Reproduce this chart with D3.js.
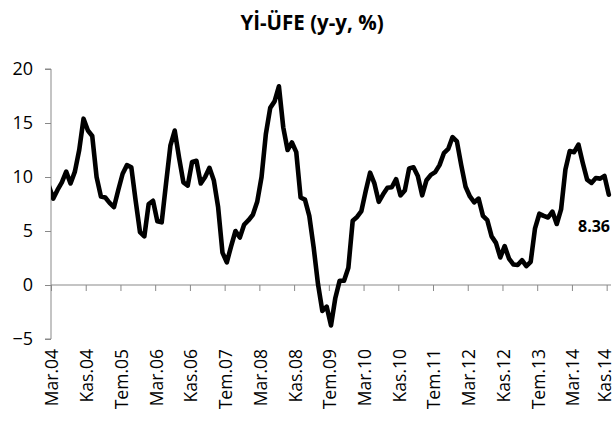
<!DOCTYPE html>
<html><head><meta charset="utf-8">
<script src="https://cdnjs.cloudflare.com/ajax/libs/d3/7.8.5/d3.min.js"></script>
<style>body{margin:0;background:#fff;overflow:hidden} svg{display:block}</style>
</head><body>
<script>
const chartTitle = "Yİ-ÜFE (y-y, %)";
const monthNames = ["Oca","Şub","Mar","Nis","May","Haz","Tem","Ağu","Eyl","Eki","Kas","Ara"];
// monthly series, first value (Şub.04) lies just left of the plot and is clipped
const startYear = 2004, startMonth = 1;
const values = [
  9.2,
  8.0, 8.8, 9.5, 10.5, 9.4, 10.5, 12.5, 15.4, 14.3, 13.8,
  10.0, 8.2, 8.1, 7.6, 7.2, 8.8, 10.3, 11.1, 10.9, 7.8, 4.9, 4.5,
  7.5, 7.8, 5.9, 5.8, 9.4, 12.9, 14.3, 11.8, 9.5, 9.2, 11.4, 11.5,
  9.4, 10.0, 10.85, 9.7, 7.2, 3.0, 2.1, 3.6, 5.0, 4.4, 5.6, 6.0,
  6.5, 7.7, 10.0, 14.0, 16.4, 17.0, 18.4, 14.6, 12.5, 13.2, 12.3, 8.1,
  7.9, 6.4, 3.5, 0.1, -2.4, -2.0, -3.75, -1.2, 0.4, 0.4, 1.6, 5.95,
  6.3, 6.85, 8.7, 10.4, 9.4, 7.7, 8.4, 9.0, 9.05, 9.8, 8.3, 8.75,
  10.8, 10.9, 10.1, 8.3, 9.7, 10.2, 10.45, 11.1, 12.2, 12.6, 13.7, 13.3,
  11.1, 9.1, 8.2, 7.65, 8.0, 6.4, 6.0, 4.5, 3.9, 2.55, 3.6, 2.45,
  1.9, 1.85, 2.3, 1.75, 2.15, 5.25, 6.6, 6.4, 6.25, 6.8, 5.65, 7.0,
  10.7, 12.4, 12.3, 13.0, 11.3, 9.75, 9.45, 9.9, 9.85, 10.1, 8.36
];
const categories = values.map((v, i) => {
  const m = startMonth + i;
  const yy = startYear + Math.floor(m / 12);
  return monthNames[m % 12] + "." + String(yy % 100).padStart(2, "0");
});
const tickLabels = ["Mar.04","Kas.04","Tem.05","Mar.06","Kas.06","Tem.07","Mar.08","Kas.08","Tem.09",
                    "Mar.10","Kas.10","Tem.11","Mar.12","Kas.12","Tem.13","Mar.14","Kas.14"];
const yTicks = [-5, 0, 5, 10, 15, 20];
const endLabel = "8.36";

const W = 616, H = 421;
const svg = d3.select("body").append("svg").attr("width", W).attr("height", H);
const font = "'Open Sans', sans-serif";
const axisColor = "#898989";

// x: array index -> pixel (first plotted category Mar.04 is index 1, centred in its slot)
const x = d3.scaleLinear().domain([0.5, values.length - 0.5]).range([51, 611]);
const y = d3.scaleLinear().domain([-5, 20]).range([339, 69]);

// title
svg.append("text").attr("x", 312).attr("y", 30).attr("text-anchor", "middle")
  .attr("font-family", font).attr("font-weight", "bold").attr("font-size", 20.5)
  .attr("fill", "#000").text(chartTitle);

// y axis
const yAxis = svg.append("g").attr("transform", `translate(${x(0.5)},0)`)
  .call(d3.axisLeft(y).tickValues(yTicks).tickSize(6).tickPadding(12).tickFormat(d3.format("d")));
yAxis.select(".domain").attr("stroke", axisColor).attr("d", `M-6,${y(20)}H0V${y(-5)}H-6`);
yAxis.selectAll(".tick line").attr("stroke", axisColor);
yAxis.selectAll(".tick text").attr("font-family", font).attr("font-size", 18).attr("fill", "#000");

// x axis line with tick marks at category boundaries every 8 months
const boundaries = d3.range(0, 17).map(k => 0.5 + 8 * k);
const xAxis = svg.append("g").attr("transform", `translate(0,${y(0)})`)
  .call(d3.axisBottom(x).tickValues(boundaries).tickSize(6).tickFormat(""));
xAxis.select(".domain").attr("stroke", axisColor).attr("d", `M${x(0.5)},0H${x(values.length - 0.5)}`);
xAxis.selectAll(".tick line").attr("stroke", axisColor);

// rotated category labels (kept inside the page width)
const labelIdx = tickLabels.map(l => categories.indexOf(l));
svg.append("g").selectAll("text").data(labelIdx).join("text")
  .attr("transform", i => `translate(${Math.min(x(i), W - 10)},349) rotate(-90)`)
  .attr("text-anchor", "end").attr("dy", "0.3em")
  .attr("font-family", font).attr("font-size", 17.5).attr("fill", "#000")
  .text(i => categories[i]);

// clip for the line
svg.append("clipPath").attr("id", "plotClip").append("rect")
  .attr("x", x(0.5)).attr("y", 0).attr("width", W - x(0.5)).attr("height", H);

const line = d3.line().x((d, i) => x(i)).y(d => y(d));
svg.append("path").datum(values).attr("clip-path", "url(#plotClip)")
  .attr("d", line).attr("fill", "none").attr("stroke", "#000")
  .attr("stroke-width", 4.6).attr("stroke-linejoin", "round").attr("stroke-linecap", "round");

// end value label
svg.append("text").attr("x", 610).attr("y", 232).attr("text-anchor", "end")
  .attr("font-family", font).attr("font-weight", "bold").attr("font-size", 16)
  .attr("fill", "#000").text(endLabel);
</script>
</body></html>
